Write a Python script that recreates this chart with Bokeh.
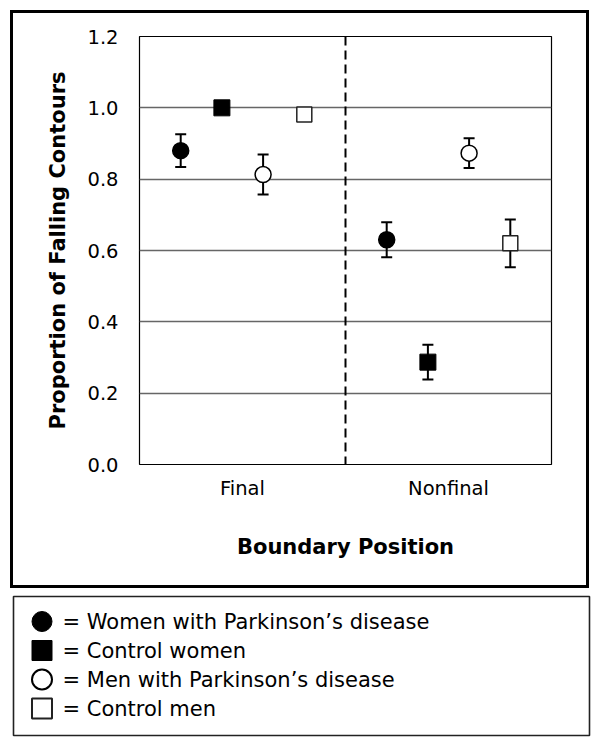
from bokeh.plotting import figure
from bokeh.models import (Range1d, FixedTicker, Span, Whisker, TeeHead,
                          ColumnDataSource, PrintfTickFormatter)
from bokeh.layouts import column
from bokeh.embed import file_html
from bokeh.resources import INLINE
from bokeh.core.properties import value

# ---------------- data ----------------
positions = ["Final", "Nonfinal"]
group_labels = ["Women with Parkinson\u2019s disease", "Control women",
                "Men with Parkinson\u2019s disease", "Control men"]

women_pd = [0.88, 0.63]
women_pd_err = [0.046, 0.049]
control_women = [1.00, 0.287]
control_women_err = [0.0, 0.049]
men_pd = [0.813, 0.873]
men_pd_err = [0.056, 0.042]
control_men = [0.981, 0.62]
control_men_err = [0.0, 0.067]

y_ticks = [0.0, 0.2, 0.4, 0.6, 0.8, 1.0, 1.2]
grid_ticks = [0.2, 0.4, 0.6, 0.8, 1.0]

series = [women_pd, control_women, men_pd, control_men]
errors = [women_pd_err, control_women_err, men_pd_err, control_men_err]
styles = [
    dict(marker="circle", size=16, fill_color="black", line_color="black", line_width=1.5),
    dict(marker="square", size=16, fill_color="black", line_color="black", line_width=1),
    dict(marker="circle", size=16, fill_color="white", line_color="black", line_width=1.5),
    dict(marker="square", size=15, fill_color="white", line_color="#222222", line_width=1.5),
]

FONT = "DejaVu Sans"

# ---------------- main chart (inside a thick black frame) ----------------
p = figure(width=573, height=572, x_range=Range1d(0, 2), y_range=Range1d(0, 1.2),
           output_backend="svg", toolbar_location=None,
           min_border_left=126, min_border_right=41, min_border_top=23, min_border_bottom=127,
           styles={"border": "3px solid black", "box-sizing": "content-box",
                   "margin-left": "10px", "margin-top": "10px"})
p.frame_align = False
p.outline_line_color = "black"
p.outline_line_width = 1.2
p.background_fill_color = "white"
p.border_fill_color = "white"

p.xgrid.grid_line_color = None
p.ygrid.ticker = FixedTicker(ticks=grid_ticks)
p.ygrid.grid_line_color = "#666666"
p.ygrid.grid_line_width = 1.5

cat_centers = [i + 0.5 for i in range(len(positions))]
p.xaxis.ticker = FixedTicker(ticks=cat_centers)
p.xaxis.major_label_overrides = {c: lab for c, lab in zip(cat_centers, positions)}
p.yaxis.ticker = FixedTicker(ticks=y_ticks)
p.yaxis.formatter = PrintfTickFormatter(format="%.1f")

for ax in (p.xaxis[0], p.yaxis[0]):
    ax.axis_line_color = None
    ax.major_tick_line_color = None
    ax.minor_tick_line_color = None
    ax.major_label_text_font = FONT
    ax.major_label_text_font_size = "19.5px"
    ax.major_label_text_color = "black"
    ax.axis_label_text_font = FONT
    ax.axis_label_text_font_size = "21px"
    ax.axis_label_text_font_style = "bold"
    ax.axis_label_text_color = "black"

p.yaxis.major_label_standoff = 15
p.yaxis.axis_label = "Proportion of Falling Contours"
p.yaxis.axis_label_standoff = 14
p.xaxis.major_label_standoff = 6
p.xaxis.axis_label = "Boundary Position"
p.xaxis.axis_label_standoff = 32

# boundary divider
p.add_layout(Span(location=1.0, dimension="height", line_color="black",
                  line_width=2, line_dash="9 5"))

n_groups = len(series)
for gi, (vals, errs, st) in enumerate(zip(series, errors, styles)):
    xs = [ci + (gi + 1) / (n_groups + 1) for ci in range(len(positions))]
    ex = [x for x, e in zip(xs, errs) if e > 0]
    eu = [v + e for v, e in zip(vals, errs) if e > 0]
    el = [v - e for v, e in zip(vals, errs) if e > 0]
    if ex:
        esrc = ColumnDataSource(dict(x=ex, upper=eu, lower=el))
        p.add_layout(Whisker(source=esrc, base="x", upper="upper", lower="lower",
                             dimension="height", line_color="black", line_width=2,
                             upper_head=TeeHead(size=11, line_color="black", line_width=2),
                             lower_head=TeeHead(size=11, line_color="black", line_width=2)))
    src = ColumnDataSource(dict(x=xs, y=vals))
    p.scatter("x", "y", source=src, **st)

# ---------------- legend box ----------------
lg = figure(width=601, height=158, x_range=Range1d(0, 576), y_range=Range1d(139, 0),
            output_backend="svg", toolbar_location=None,
            x_axis_type=None, y_axis_type=None,
            min_border_left=13, min_border_right=12, min_border_top=8, min_border_bottom=11)
lg.frame_align = False
lg.outline_line_color = "#222222"
lg.outline_line_width = 1.6
lg.xgrid.grid_line_color = None
lg.ygrid.grid_line_color = None
lg.border_fill_color = "white"

row_y = [25 + 29 * i for i in range(len(group_labels))]
for gi, st in enumerate(styles):
    s = dict(st)
    s["size"] = 20
    s["line_width"] = 2 if s["fill_color"] == "white" else 1
    lg.scatter(x=[28.5], y=[row_y[gi]], **s)

lg.text(x=[49] * len(group_labels), y=row_y,
        text=["= " + g for g in group_labels],
        text_font=value(FONT), text_font_size="21px", text_color="black",
        text_baseline="middle", text_align="left")

layout = column(p, lg, spacing=0)
open("out.html", "w").write(file_html(layout, INLINE))
